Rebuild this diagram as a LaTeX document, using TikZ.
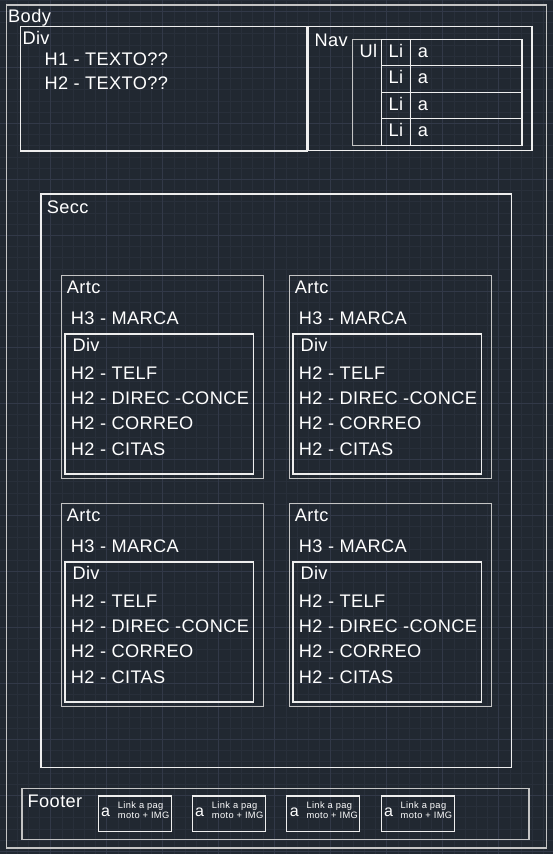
\documentclass[tikz,border=0pt]{standalone}
\usepackage{fontspec}
\setmainfont{Liberation Sans}
\usepackage{tikz}

\definecolor{cadbg}{RGB}{33,40,49}
\definecolor{cadminor}{RGB}{40,47,58}
\definecolor{cadmajor}{RGB}{50,57,72}
\definecolor{cadline}{RGB}{238,238,238}
\definecolor{cadgray}{RGB}{196,196,196}

\begin{document}
\begin{tikzpicture}[x=1pt, y=-1pt,
  box/.style={draw=cadline, line width=1.1pt},
  graybox/.style={draw=cadgray, line width=1.1pt},
  lbl/.style={text=white, font=\fontsize{18.2}{20}\selectfont\addfontfeature{LetterSpace=2.2}, inner sep=0pt, anchor=base west},
  biga/.style={text=white, font=\fontsize{16}{18}\selectfont, inner sep=0pt, anchor=base west},
  small/.style={text=white, font=\fontsize{9.3}{10}\selectfont\addfontfeature{LetterSpace=4}, inner sep=0pt, anchor=base west}]
\fill[cadbg] (0,0) rectangle (553,854);
\useasboundingbox (0,0) rectangle (553,854);
% grid
\draw[cadminor, line width=0.6pt, xshift=5.9pt] (-20,880) grid[step=11.2pt] (580,-20);
\draw[cadmajor, line width=0.8pt, xshift=-5.3pt, yshift=-11pt] (-20,880) grid[step=56pt] (600,-20);

% body
\draw[graybox] (6.7,5) rectangle (546.5,848);
\node[lbl] (body) at (8,22.7) {Body};

% top div
\draw[box] (20.7,26.7) rectangle (307,151);
\node[lbl] (div) at (22.3,44.3) {Div};
\node[lbl] (h1) at (44.3,65) {H1 - TEXTO??};
\node[lbl] (h2) at (44.3,89.3) {H2 - TEXTO??};

% nav
\draw[box] (308.5,26.7) rectangle (532,150.7);
\node[lbl] (nav) at (314.3,46) {Nav};
\draw[graybox] (352.3,39.3) rectangle (522,145.3);
\node[lbl] (ul) at (359.3,57.3) {Ul};
\foreach \i/\y in {1/39.3, 2/65.8, 3/92.3, 4/118.8} {
  \draw[box] (381.7,\y) rectangle (410.7,\y+26.5);
  \draw[box] (410.7,\y) rectangle (522,\y+26.5);
  \node[lbl] (li\i) at (388.3,\y+18) {Li};
  \node[lbl] (a\i) at (417.7,\y+18) {a};
}

% secc
\draw[box] (41,194) rectangle (511.3,767.3);
\node[lbl] (secc) at (46.7,213.3) {Secc};
\foreach \n/\dx/\dy in {1/0/0, 2/228/0, 3/0/228, 4/228/228} {
  \draw[graybox] (61.7+\dx,275.7+\dy) rectangle (263.3+\dx,478.3+\dy);
  \draw[box] (65+\dx,334+\dy) rectangle (253.3+\dx,474+\dy);
  \node[lbl] (artc\n) at (66.7+\dx,293.3+\dy) {Artc};
  \node[lbl] (marca\n) at (70.7+\dx,324+\dy) {H3 - MARCA};
  \node[lbl] (div\n) at (72.3+\dx,351+\dy) {Div};
  \node[lbl] (telf\n) at (70.7+\dx,379+\dy) {H2 - TELF};
  \node[lbl] (direc\n) at (70.7+\dx,404.3+\dy) {H2 - DIREC -CONCE};
  \node[lbl] (correo\n) at (70.7+\dx,429.6+\dy) {H2 - CORREO};
  \node[lbl] (citas\n) at (70.7+\dx,455+\dy) {H2 - CITAS};
}

% footer
\draw[graybox] (22,788.7) rectangle (529,839.5);
\node[lbl] (footer) at (27.5,807.7) {Footer};
\foreach \i/\dx in {1/0, 2/94, 3/188.6, 4/282.8} {
  \draw[box] (98.3+\dx,796) rectangle (171.3+\dx,831.3);
  \node[biga] (link\i) at (101+\dx,816) {a};
  \node[small] (pag\i) at (117.7+\dx,808) {Link a pag};
  \node[small] (moto\i) at (117.7+\dx,818.7) {moto + IMG};
}
\end{tikzpicture}
\end{document}
